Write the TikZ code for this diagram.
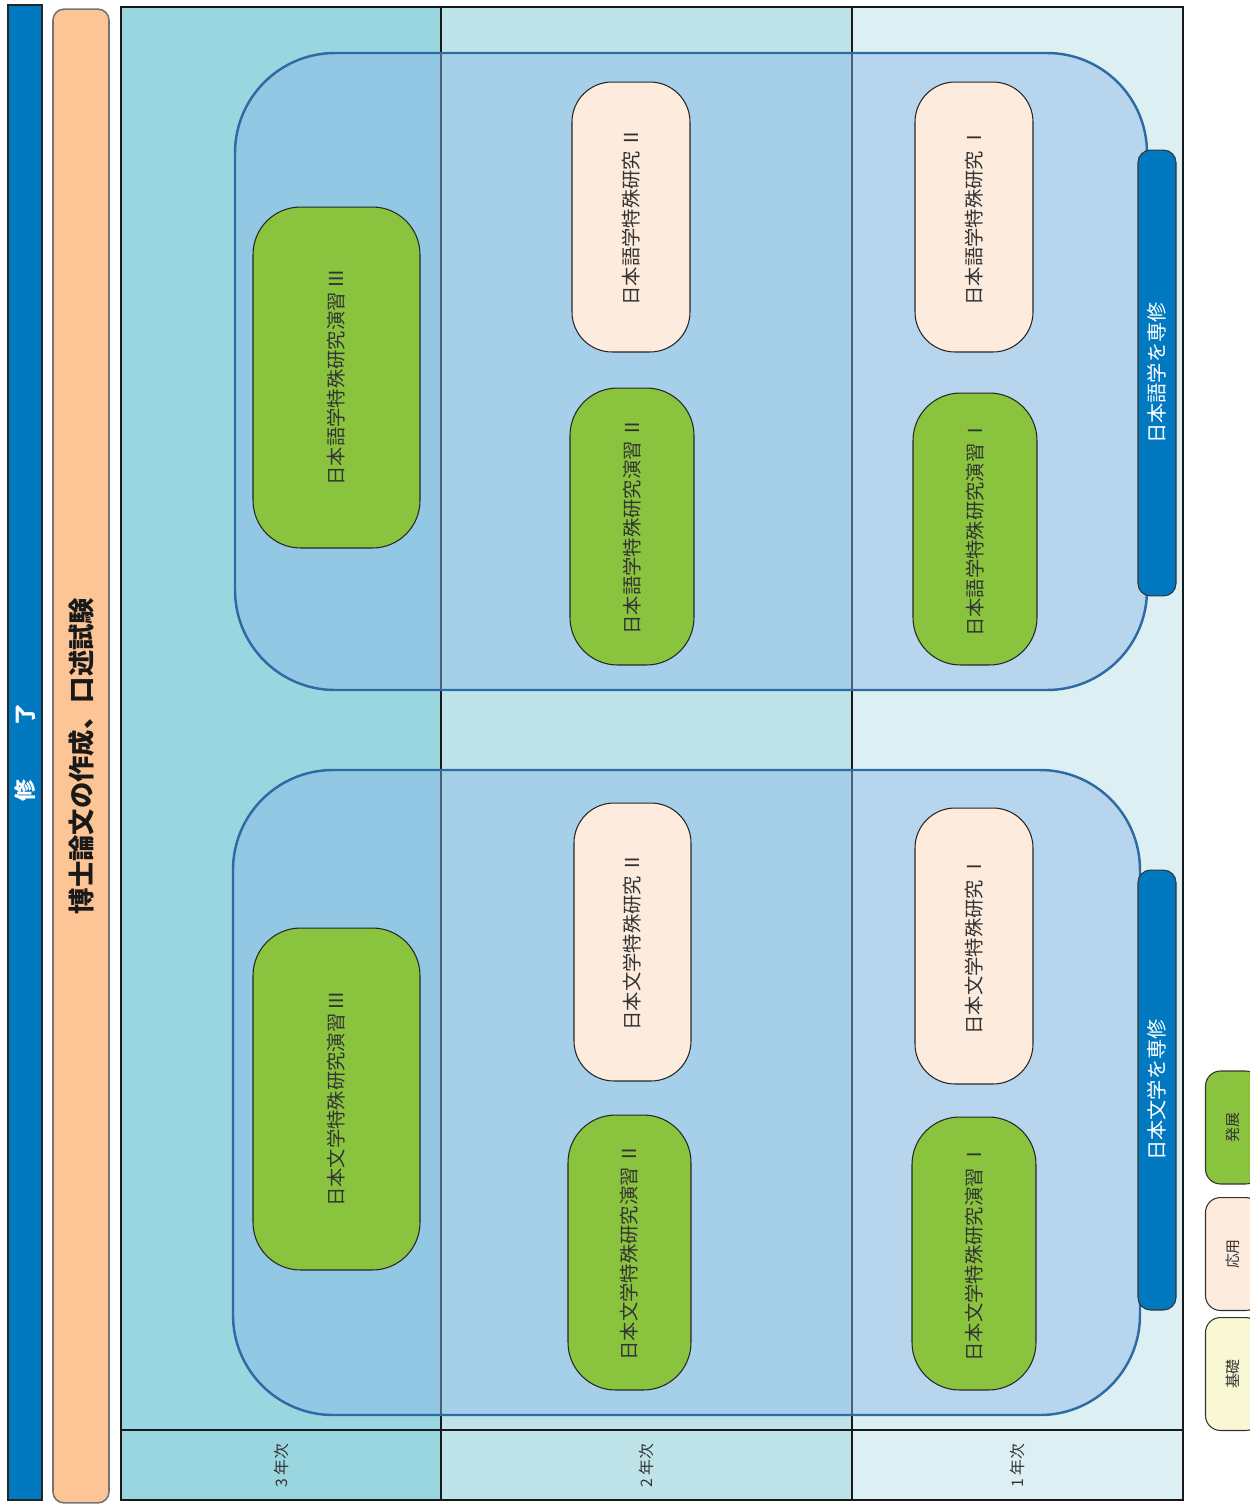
\documentclass[tikz,border=0pt]{standalone}
\usepackage{fontspec}
\setmainfont{Noto Sans CJK JP}
\usepackage{tikz}

\definecolor{barblue}{RGB}{0,121,193}
\definecolor{titlepeach}{RGB}{253,197,150}
\definecolor{yearthree}{RGB}{154,214,224}
\definecolor{yeartwo}{RGB}{190,228,234}
\definecolor{yearone}{RGB}{220,240,243}
\definecolor{trackfill}{RGB}{138,183,233}
\definecolor{trackline}{RGB}{46,107,164}
\definecolor{practicegreen}{RGB}{138,196,63}
\definecolor{lecturepeach}{RGB}{253,235,221}
\definecolor{basicyellow}{RGB}{249,248,212}

\tikzset{
    course/.style={rotate=90, draw=black!85, line width=0.6pt, inner sep=2pt,
        text=black!80, font=\fontsize{11}{13}\selectfont},
    practice/.style={course, fill=practicegreen, rounded corners=0.95cm},
    lecture/.style={course, fill=lecturepeach, rounded corners=0.8cm},
    track/.style={fill=trackfill, fill opacity=0.45, draw=trackline, draw opacity=1,
        line width=1.4pt, rounded corners=2cm},
    major/.style={rotate=90, fill=barblue, draw=black!80, line width=0.6pt,
        rounded corners=0.25cm, text=white, minimum height=0.76cm,
        font=\fontsize{11.5}{13}\selectfont},
    yearlabel/.style={rotate=90, text=black!80, font=\fontsize{9}{11}\selectfont},
    legend/.style={rotate=90, draw=black!80, line width=0.6pt, rounded corners=0.3cm,
        minimum width=2.26cm, minimum height=1.1cm, text=black!80,
        font=\fontsize{8.5}{10}\selectfont}
}

\begin{document}
\begin{tikzpicture}[x=0.02cm, y=-0.02cm]

    \useasboundingbox (0,0) rectangle (1250,1505);

    % year columns
    \fill[yearthree] (121,7) rectangle (441,1500);
    \fill[yeartwo] (441,7) rectangle (852,1500);
    \fill[yearone] (852,7) rectangle (1183,1500);
    \draw[line width=1.1pt, black!90] (441,7) -- (441,1500);
    \draw[line width=1.1pt, black!90] (852,7) -- (852,1500);
    \draw[line width=1.1pt, black!90] (121,1430) -- (1183,1430);
    \draw[line width=1.1pt, black!90] (121,7) rectangle (1183,1500);

    \node[yearlabel] (y3) at (281,1466) {3 年次};
    \node[yearlabel] (y2) at (646,1466) {2 年次};
    \node[yearlabel] (y1) at (1017,1466) {1 年次};

    % tracks
    \draw[track] (235,53) rectangle (1147,690);
    \draw[track] (233,770) rectangle (1140,1415);

    \node[practice, minimum width=6.82cm, minimum height=3.34cm] (goEnIII) at (336.5,377.5) {日本語学特殊研究演習\,Ⅲ};
    \node[lecture, minimum width=5.4cm, minimum height=2.36cm] (goKenII) at (631,217) {日本語学特殊研究\,Ⅱ};
    \node[practice, minimum width=5.54cm, minimum height=2.48cm] (goEnII) at (632,526.5) {日本語学特殊研究演習\,Ⅱ};
    \node[lecture, minimum width=5.4cm, minimum height=2.36cm] (goKenI) at (974,217) {日本語学特殊研究\,Ⅰ};
    \node[practice, minimum width=5.44cm, minimum height=2.48cm] (goEnI) at (975,529) {日本語学特殊研究演習\,Ⅰ};

    \node[practice, minimum width=6.84cm, minimum height=3.34cm] (bunEnIII) at (336.5,1099) {日本文学特殊研究演習\,Ⅲ};
    \node[lecture, minimum width=5.56cm, minimum height=2.34cm] (bunKenII) at (632.5,942) {日本文学特殊研究\,Ⅱ};
    \node[practice, minimum width=5.5cm, minimum height=2.46cm] (bunEnII) at (629.5,1252.5) {日本文学特殊研究演習\,Ⅱ};
    \node[lecture, minimum width=5.52cm, minimum height=2.36cm] (bunKenI) at (974,946) {日本文学特殊研究\,Ⅰ};
    \node[practice, minimum width=5.46cm, minimum height=2.48cm] (bunEnI) at (974,1253.5) {日本文学特殊研究演習\,Ⅰ};

    \node[major, minimum width=8.92cm] (goMajor) at (1157,373) {日本語学を専修};
    \node[major, minimum width=8.8cm] (bunMajor) at (1157,1090) {日本文学を専修};

    % completion
    \node[rotate=90, fill=barblue, draw=black!85, line width=1pt, minimum width=29.9cm,
        minimum height=0.68cm, inner sep=0pt, text=white,
        font=\fontsize{12.5}{14}\bfseries] (shuryo) at (25,752.5) {修\hspace{2.5em}了};
    \node[rotate=90, fill=titlepeach, draw=black!55, line width=0.9pt, rounded corners=0.22cm,
        minimum width=29.88cm, minimum height=1.12cm, inner sep=0pt, text=black!90,
        font=\fontsize{15}{17}\bfseries] (thesis) at (81,756) {博士論文の作成、口述試験};

    % legend
    \node[legend, fill=practicegreen] (lgHatten) at (1233,1127.5) {発展};
    \node[legend, fill=lecturepeach] (lgOyo) at (1233,1254) {応用};
    \node[legend, fill=basicyellow] (lgKiso) at (1233,1374) {基礎};

\end{tikzpicture}
\end{document}
